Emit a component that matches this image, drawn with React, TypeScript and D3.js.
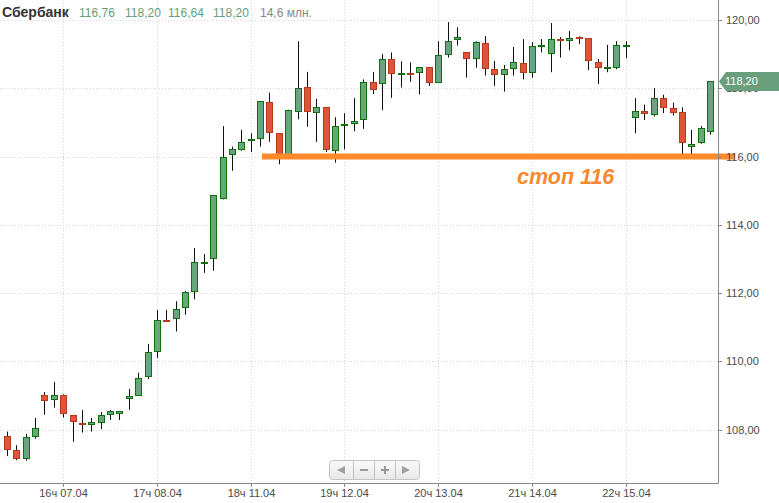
import React from 'react';
import * as d3 from 'd3';

// hourly candles, Сбербанк
const opens = [107.81, 107.40, 107.16, 107.82, 109.01, 108.90, 109.01, 108.42, 108.18, 108.17, 108.21, 108.46, 108.49, 108.91, 109.02, 109.56, 110.29, 111.22, 111.27, 111.58, 112.06, 112.89, 113.04, 114.79, 116.06, 116.23, 116.47, 116.53, 117.59, 116.68, 116.05, 117.33, 118.03, 117.30, 117.44, 116.18, 116.91, 116.97, 117.09, 118.18, 118.15, 118.85, 118.41, 118.44, 118.47, 118.61, 118.19, 118.99, 119.43, 119.05, 118.88, 119.32, 118.56, 118.43, 118.58, 118.73, 118.48, 119.25, 119.02, 119.44, 119.41, 119.50, 119.46, 118.76, 118.59, 118.63, 119.25, 117.17, 117.32, 117.25, 117.71, 117.42, 117.30, 116.30, 116.42, 116.76];
const highs = [107.94, 107.54, 107.87, 108.34, 109.10, 109.39, 109.03, 108.43, 108.57, 108.34, 108.51, 108.57, 108.54, 109.19, 109.66, 110.51, 111.50, 111.50, 111.76, 112.06, 113.32, 113.14, 114.87, 116.89, 116.29, 116.78, 116.68, 117.63, 117.87, 116.68, 117.37, 119.38, 118.48, 117.69, 117.44, 117.15, 117.27, 117.71, 118.26, 118.48, 119.00, 119.05, 118.79, 118.76, 118.62, 118.62, 119.38, 119.94, 119.79, 119.06, 119.38, 119.53, 118.80, 118.68, 119.21, 119.44, 119.35, 119.44, 119.91, 119.50, 119.68, 119.52, 119.47, 118.86, 119.27, 119.38, 119.38, 117.71, 117.52, 118.01, 117.81, 117.58, 117.44, 116.78, 116.89, 118.20];
const lows = [107.22, 107.10, 107.09, 107.73, 108.43, 108.64, 108.35, 107.64, 107.91, 107.94, 108.01, 108.28, 108.28, 108.58, 108.99, 109.48, 110.09, 111.16, 110.87, 111.36, 111.82, 112.59, 112.65, 114.74, 115.58, 116.17, 116.13, 116.29, 116.43, 115.77, 116.04, 117.09, 116.87, 116.43, 116.13, 115.82, 116.21, 116.74, 116.81, 117.83, 117.36, 117.72, 118.02, 118.19, 117.82, 118.07, 118.15, 118.90, 119.25, 118.31, 118.60, 118.37, 118.07, 117.90, 118.37, 118.26, 118.31, 119.05, 118.47, 118.90, 119.11, 119.29, 118.53, 118.12, 118.47, 118.56, 118.88, 116.68, 117.07, 117.17, 117.27, 117.20, 116.01, 115.99, 116.37, 116.64];
const closes = [107.44, 107.17, 107.77, 108.03, 108.87, 109.01, 108.47, 108.26, 108.15, 108.21, 108.42, 108.53, 108.53, 108.98, 109.50, 110.26, 111.20, 111.18, 111.52, 112.02, 112.90, 112.92, 114.86, 115.99, 116.21, 116.42, 116.50, 117.62, 116.71, 116.04, 117.36, 118.00, 117.33, 117.44, 116.21, 116.89, 116.94, 117.03, 118.18, 117.99, 118.85, 118.44, 118.44, 118.41, 118.61, 118.19, 118.97, 119.38, 119.49, 118.90, 119.35, 118.58, 118.43, 118.56, 118.76, 118.48, 119.23, 119.28, 119.44, 119.41, 119.46, 119.47, 118.82, 118.63, 118.62, 119.26, 119.28, 117.32, 117.27, 117.71, 117.46, 117.31, 116.42, 116.37, 116.83, 118.20];

const xTickIndex = [6, 16, 26, 36, 46, 56, 66];
const xTickLabels = ['16ч 07.04', '17ч 08.04', '18ч 11.04', '19ч 12.04', '20ч 13.04', '21ч 14.04', '22ч 15.04'];
const yTicks = [108, 110, 112, 114, 116, 118, 120];

const header = { name: 'Сбербанк', ohlc: ['116,76', '118,20', '116,64', '118,20'], volume: '14,6 млн.' };
const lastPrice = 118.2;
const stopLevel = 116;
const stopLabel = 'стоп 116';
const stopFromIndex = 27;

const W = 779;
const H = 503;
const plotRight = 718;
const plotBottom = 483;
const font = '"Liberation Sans", Arial, sans-serif';

const fmt = (v: number) => v.toFixed(2).replace('.', ',');

export default function App() {
  const idx = d3.range(opens.length);
  const x = d3.scaleBand<number>().domain(idx).range([2.3, 714.7]);
  const y = d3.scaleLinear().domain([108, 120]).range([429.5, 20]);
  const cx = (i: number) => Math.round((x(i) || 0) + x.bandwidth() / 2);

  const yLast = y(lastPrice);
  const yStop = y(stopLevel);

  return (
    <svg width={W} height={H} style={{ position: 'absolute', left: 0, top: 0, background: '#fff' }} fontFamily={font}>
      {/* grid */}
      <g stroke="#d6d6d6" strokeDasharray="1,2">
        {yTicks.map(t => (
          <line key={'h' + t} x1={0} x2={plotRight} y1={Math.round(y(t)) + 0.5} y2={Math.round(y(t)) + 0.5} />
        ))}
        {xTickIndex.map(i => (
          <line key={'v' + i} x1={cx(i) + 0.5} x2={cx(i) + 0.5} y1={0} y2={plotBottom} />
        ))}
      </g>

      {/* candles */}
      <g>
        {idx.map(i => {
          const up = closes[i] >= opens[i];
          const top = Math.round(y(Math.max(opens[i], closes[i])));
          const bot = Math.round(y(Math.min(opens[i], closes[i])));
          const c = cx(i);
          return (
            <g key={i}>
              <line x1={c + 0.5} x2={c + 0.5} y1={y(highs[i])} y2={y(lows[i])} stroke="#111" strokeWidth={1} />
              <rect
                x={c - 2.5}
                y={top + 0.5}
                width={6}
                height={Math.max(0, bot - top)}
                fill={up ? '#68a67e' : '#e0553a'}
                stroke={up ? '#107010' : '#b23c1c'}
                strokeWidth={1}
              />
            </g>
          );
        })}
      </g>

      {/* stop line */}
      <line x1={cx(stopFromIndex) + 2} x2={735} y1={yStop} y2={yStop} stroke="#ff8a2c" strokeWidth={6} />
      <text x={517} y={184} fontSize={21.5} fontWeight="bold" fontStyle="italic" fill="#f7892f">{stopLabel}</text>

      {/* axes */}
      <line x1={plotRight + 0.5} x2={plotRight + 0.5} y1={0} y2={plotBottom + 0.5} stroke="#8a8a8a" />
      <line x1={0} x2={plotRight + 0.5} y1={plotBottom + 0.5} y2={plotBottom + 0.5} stroke="#8a8a8a" />
      {yTicks.map(t => (
        <g key={'yt' + t}>
          <line x1={plotRight} x2={plotRight + 4} y1={Math.round(y(t)) + 0.5} y2={Math.round(y(t)) + 0.5} stroke="#8a8a8a" />
          {t !== lastPrice && (
            <text x={726} y={y(t) + 4} fontSize={11} fill="#4a4a4a">{fmt(t)}</text>
          )}
        </g>
      ))}
      {xTickIndex.map((i, k) => (
        <g key={'xt' + i}>
          <line x1={cx(i) + 0.5} x2={cx(i) + 0.5} y1={plotBottom} y2={plotBottom + 4} stroke="#8a8a8a" />
          <text x={cx(i) + 0.5} y={497} fontSize={11} fill="#4a4a4a" textAnchor="middle">{xTickLabels[k]}</text>
        </g>
      ))}

      {/* last price marker */}
      <path
        d={`M${plotRight + 1},${yLast} L${plotRight + 8},${yLast - 9.5} L${W},${yLast - 9.5} L${W},${yLast + 9.5} L${plotRight + 8},${yLast + 9.5} Z`}
        fill="#6a9f7e"
      />
      <text x={725} y={yLast + 4} fontSize={11} fill="#fff">{fmt(lastPrice)}</text>

      {/* header */}
      <g fontSize={12}>
        <text x={2} y={17} fontSize={14} fontWeight="bold" fill="#333">{header.name}</text>
        {header.ohlc.map((s, k) => (
          <text key={k} x={[79, 125, 168, 213][k]} y={17} fill="#5f9f78">{s}</text>
        ))}
        <text x={260} y={17} fill="#888">{header.volume}</text>
      </g>

      {/* navigation buttons */}
      <g>
        <defs>
          <linearGradient id="btn" x1="0" x2="0" y1="0" y2="1">
            <stop offset="0" stopColor="#fafafa" />
            <stop offset="1" stopColor="#e8e8e8" />
          </linearGradient>
        </defs>
        <rect x={329.5} y={460.5} width={90} height={19} rx={3} fill="url(#btn)" stroke="#c4c4c4" />
        {[353.5, 374.5, 395.5].map(bx => (
          <line key={bx} x1={bx} x2={bx} y1={461} y2={479} stroke="#c4c4c4" />
        ))}
        <path d="M337,470 L345,466 L345,474 Z" fill="#a0a0a0" />
        <path d="M410,470 L402,466 L402,474 Z" fill="#a0a0a0" />
        <rect x={360} y={469} width={8} height={2} fill="#999" />
        <rect x={381} y={469} width={8} height={2} fill="#999" />
        <rect x={384} y={466} width={2} height={8} fill="#999" />
      </g>
    </svg>
  );
}
